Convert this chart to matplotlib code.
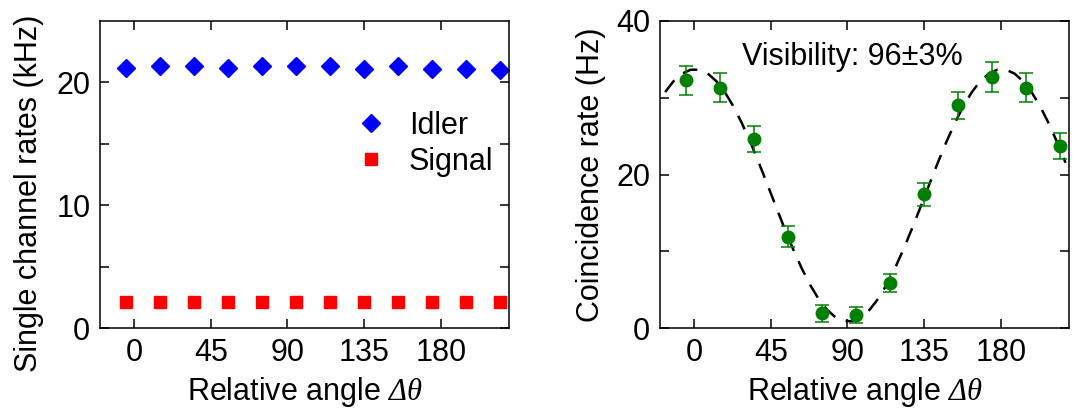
import numpy as np
import matplotlib
matplotlib.use("Agg")
import matplotlib.pyplot as plt

plt.rcParams["font.family"] = ["Liberation Sans", "DejaVu Sans"]
# italic serif Greek for the angle symbol
plt.rcParams["mathtext.fontset"] = "custom"
plt.rcParams["mathtext.rm"] = "Liberation Serif:italic"
plt.rcParams["mathtext.it"] = "Liberation Serif:italic"
plt.rcParams["font.size"] = 22

# Relative angle of the measured points (degrees)
angles = [-5, 15, 35, 55, 75, 95, 115, 135, 155, 175, 195, 215]

# Single channel rates (kHz)
idler = [21.2, 21.3, 21.3, 21.2, 21.3, 21.3, 21.3, 21.1, 21.3, 21.1, 21.1, 21.0]
signal = [2.1, 2.1, 2.1, 2.1, 2.1, 2.1, 2.1, 2.1, 2.1, 2.1, 2.1, 2.1]

# Coincidence rate (Hz) and error bars
coinc = [32.3, 31.3, 24.6, 11.9, 1.9, 1.7, 5.9, 17.4, 29.0, 32.7, 31.3, 23.7]
coinc_err = [1.9, 1.9, 1.7, 1.4, 1.1, 1.1, 1.2, 1.5, 1.8, 1.9, 1.9, 1.7]

xticks = [0, 45, 90, 135, 180]
xlabel = r"Relative angle $\Delta\theta$"
FS = 22


def style_axes(ax):
    ax.tick_params(which="both", direction="in", top=True, right=True,
                   width=1.1, labelsize=FS, pad=7)
    ax.tick_params(which="both", length=6.5)
    for sp in ax.spines.values():
        sp.set_linewidth(1.1)
    ax.set_xlim(-20, 220)
    ax.set_xticks(xticks)
    ax.set_xlabel(xlabel, fontsize=FS, labelpad=5)


fig = plt.figure(figsize=(10.73, 4.12), dpi=100)
ax1 = fig.add_axes([100 / 1073, 1 - 328 / 412, 409 / 1073, 307 / 412])
ax2 = fig.add_axes([660 / 1073, 1 - 328 / 412, 409 / 1073, 307 / 412])

# left panel: single channel rates
ax1.plot(angles, idler, "D", color="#0000ff", ms=9.5, ls="none",
         label="Idler", clip_on=False)
ax1.plot(angles, signal, "s", color="#ff0000", ms=8, ls="none",
         label="Signal", clip_on=False)
style_axes(ax1)
ax1.set_ylim(0, 25)
ax1.set_yticks([0, 10, 20])
ax1.set_yticks([5, 15], minor=True)
ax1.set_ylabel("Single channel rates (kHz)", fontsize=FS)
ax1.yaxis.set_label_coords(-0.137, 0.44)
ax1.legend(loc="upper right", bbox_to_anchor=(0.992, 0.747), frameon=False,
           fontsize=FS, handletextpad=0.63, labelspacing=0.2,
           borderaxespad=0, handlelength=1.2)

# right panel: coincidences with cos^2 fit (linear least squares)
th = np.radians(np.array(angles, dtype=float))
A = np.column_stack([np.ones_like(th), np.cos(2 * th), np.sin(2 * th)])
coef = np.linalg.lstsq(A, np.array(coinc), rcond=None)[0]
fit_x = np.arange(-17, 221, 5.0)
fr = np.radians(fit_x)
fit_y = coef[0] + coef[1] * np.cos(2 * fr) + coef[2] * np.sin(2 * fr)

ax2.plot(fit_x, fit_y, ls=(0, (6, 4.5)), color="black", lw=1.8)
ax2.errorbar(angles, coinc, yerr=coinc_err, fmt="o", color="#008000",
             ms=9, elinewidth=1.1, capsize=5, capthick=1.1, clip_on=False)
style_axes(ax2)
ax2.set_ylim(0, 40)
ax2.set_yticks([0, 20, 40])
ax2.set_yticks([10, 30], minor=True)
ax2.set_ylabel("Coincidence rate (Hz)", fontsize=FS)
ax2.yaxis.set_label_coords(-0.132, 0.5)
ax2.text(93, 35.3, "Visibility: 96\u00b13%", ha="center", va="center",
         fontsize=FS)

fig.savefig("out.png", dpi=100)
